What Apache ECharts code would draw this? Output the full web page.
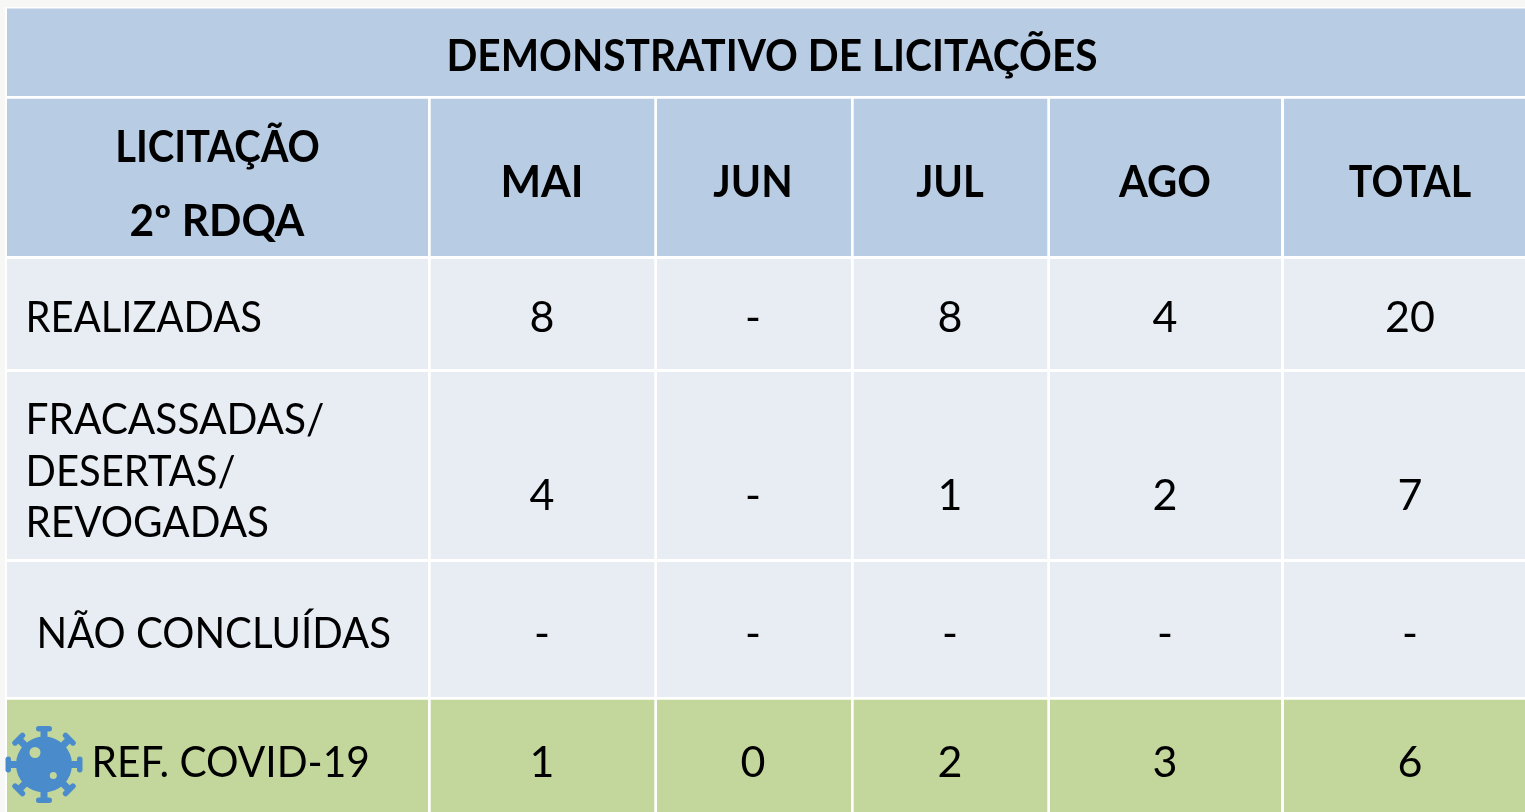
<!DOCTYPE html>
<html>
<head>
<meta charset="utf-8">
<title>Demonstrativo de licitações</title>
<style>
 html, body { margin: 0; padding: 0; background: #f7f7f6; }
 #main { width: 1525px; height: 812px; }
</style>
<script src="https://cdn.jsdelivr.net/npm/echarts@6/dist/echarts.min.js"></script>
</head>
<body>
<div id="main"></div>
<script>
// dados da tabela
var titulo = 'DEMONSTRATIVO DE LICITAÇÕES';
var cabecalho = ['MAI', 'JUN', 'JUL', 'AGO', 'TOTAL'];
var cabecalhoLinhas = ['LICITAÇÃO', '2º RDQA'];
var realizadas = ['8', '-', '8', '4', '20'];
var fracassadas = ['4', '-', '1', '2', '7'];
var naoConcluidas = ['-', '-', '-', '-', '-'];
var refCovid = ['1', '0', '2', '3', '6'];

// geometria, em pixels da imagem (eixos 1:1)
var colX = [[7, 428], [430.7, 654.3], [657, 851], [853.7, 1047.3], [1050, 1281], [1284, 1525]];
var linY = [[8.5, 96], [98.7, 256], [259, 369], [372, 559], [562, 697], [699.7, 812]];
var colCentro = [542, 753, 950, 1165, 1410];
// Lato e mais largo que a fonte original, entao aperta na horizontal
var escalaCab = [1, 0.95, 0.93, 0.97, 0.917];

var AZUL = '#b8cce4', CINZA = '#e8edf4', VERDE = '#c3d69b', VIRUS = '#4a8bcb';
var FONTE = 'Lato, Carlito, sans-serif';

// retangulos das celulas: [x0, x1, y0, y1, cor]
var celulas = [[7, 1525, linY[0][0], linY[0][1], AZUL]];
linY.slice(1).forEach(function (l, i) {
  colX.forEach(function (c) {
    var cor = i === 0 ? AZUL : (i === 4 ? VERDE : CINZA);
    celulas.push([c[0], c[1], l[0], l[1], cor]);
  });
});

// textos: [x, y, texto, alinhamento, negrito, escala horizontal]
var textos = [[772, 57, titulo, 'center', 1, 0.945]];
textos.push([217.5, 148, cabecalhoLinhas[0], 'center', 1, 0.93]);
textos.push([217, 222, cabecalhoLinhas[1], 'center', 1, 0.99]);
cabecalho.forEach(function (t, i) { textos.push([colCentro[i], 183, t, 'center', 1, escalaCab[i]]); });

textos.push([25.5, 318, 'REALIZADAS', 'left', 0, 0.93]);
textos.push([25.5, 420, 'FRACASSADAS/', 'left', 0, 0.945]);
textos.push([25.5, 472, 'DESERTAS/', 'left', 0, 0.93]);
textos.push([25.5, 523, 'REVOGADAS', 'left', 0, 0.94]);
textos.push([36.5, 634, 'NÃO CONCLUÍDAS', 'left', 0, 0.934]);
textos.push([91.5, 763, 'REF. COVID-19', 'left', 0, 0.945]);

[[realizadas, 318], [fracassadas, 496], [naoConcluidas, 634], [refCovid, 763]].forEach(function (r) {
  r[0].forEach(function (v, i) { textos.push([colCentro[i], r[1], v, 'center', 0, 1]); });
});

// icone do virus, centro em coordenadas do eixo
var virusCentro = [[44, 764.5]];

function renderCelula(params, api) {
  var p0 = api.coord([api.value(0), api.value(2)]);
  var p1 = api.coord([api.value(1), api.value(3)]);
  return {
    type: 'rect',
    shape: { x: p0[0], y: p0[1], width: p1[0] - p0[0], height: p1[1] - p0[1] },
    style: { fill: celulas[params.dataIndex][4] }
  };
}

function renderTexto(params, api) {
  var t = textos[params.dataIndex];
  var p = api.coord([t[0], t[1]]);
  return {
    type: 'text',
    x: p[0], y: p[1],
    scaleX: t[5],
    style: {
      text: t[2], fill: '#000',
      font: (t[4] ? 'bold ' : '') + '43px ' + FONTE,
      textAlign: t[3], textVerticalAlign: 'middle'
    }
  };
}

function renderVirus(params, api) {
  var c = api.coord([api.value(0), api.value(1)]);
  var filhos = [{ type: 'circle', shape: { cx: 0, cy: 0, r: 28 }, style: { fill: VIRUS } }];
  for (var i = 0; i < 8; i++) {
    var ang = -i * Math.PI / 4;
    filhos.push({ type: 'rect', rotation: ang, shape: { x: -3.5, y: -36, width: 7, height: 12 }, style: { fill: VIRUS } });
    filhos.push({ type: 'rect', rotation: ang, shape: { x: -8, y: -38.5, width: 16, height: 5.5, r: 2.7 }, style: { fill: VIRUS } });
  }
  filhos.push({ type: 'circle', shape: { cx: -9, cy: -12, r: 5.5 }, style: { fill: VERDE } });
  filhos.push({ type: 'circle', shape: { cx: 9.3, cy: 11, r: 3.5 }, style: { fill: VERDE } });
  return { type: 'group', x: c[0], y: c[1], children: filhos };
}

var chart = echarts.init(document.getElementById('main'));
chart.setOption({
  animation: false,
  backgroundColor: 'transparent',
  tooltip: { show: false },
  grid: { left: 0, right: 0, top: 0, bottom: 0 },
  xAxis: { type: 'value', min: 0, max: 1525, show: false },
  yAxis: { type: 'value', min: 0, max: 812, inverse: true, show: false },
  series: [
    { type: 'custom', silent: true, clip: false, renderItem: renderCelula, encode: { x: [0, 1], y: [2, 3] }, data: celulas.map(function (c) { return c.slice(0, 4); }), z: 1 },
    { type: 'custom', silent: true, clip: false, renderItem: renderVirus, encode: { x: 0, y: 1 }, data: virusCentro, z: 2 },
    { type: 'custom', silent: true, clip: false, renderItem: renderTexto, encode: { x: 0, y: 1 }, data: textos.map(function (t) { return [t[0], t[1]]; }), z: 3 }
  ],
  graphic: [{ type: 'rect', z: -1, silent: true, shape: { x: 5, y: 7, width: 1520, height: 805 }, style: { fill: '#fff' } }]
});
</script>
</body>
</html>
